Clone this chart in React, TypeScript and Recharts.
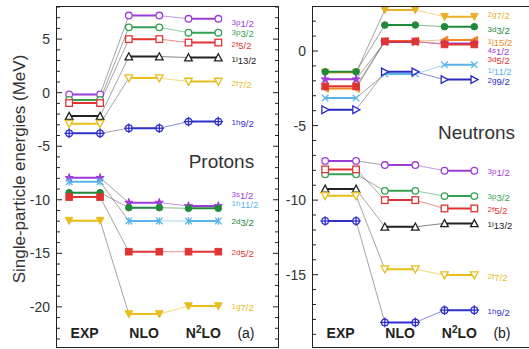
import React from 'react';
import { ComposedChart, Line, XAxis, YAxis } from 'recharts';

const FONT = '"Liberation Sans", Arial, sans-serif';
const INK = '#222222';

const stageNames = ['EXP', 'NLO', 'N2LO'];
// x-ranges of the three level columns, x axis runs 0..10
const stageSpans = [[0.55, 1.95], [3.25, 4.63], [5.95, 7.3]];
const LABEL_X = 7.9;
const TAG_X = 8.55;
const X_DOMAIN = [0, 10];

// ---- protons, panel (a)
const protonStates = ['3p1/2', '3p3/2', '2f5/2', '1i13/2', '2f7/2', '1h9/2', '3s1/2', '1h11/2', '2d3/2', '2d5/2', '1g7/2'];
const protonExp = [-0.16, -0.68, -0.97, -2.19, -2.9, -3.8, -7.95, -8.32, -9.34, -9.75, -11.95];
const protonNlo = [7.2, 6.1, 5.0, 3.37, 1.36, -3.32, -10.27, -11.98, -10.74, -14.85, -20.67];
const protonN2lo = [6.9, 5.6, 4.68, 3.28, 1.04, -2.7, -10.58, -11.98, -10.8, -14.85, -19.93];
const protonLabelAt = [6.52, 5.59, 4.47, 3.07, 0.82, -2.82, -9.5, -10.35, -12.05, -14.94, -19.99];
const protonColors = ['#9c3ed6', '#35a052', '#e03434', '#222222', '#e8bd1c', '#3030cc', '#9c3ed6', '#5ab4ea', '#1f8a3a', '#e03434', '#e8bd1c'];
const protonMarkers = ['circleOpen', 'circleOpen', 'squareOpen', 'triUpOpen', 'triDownOpen', 'circlePlus', 'star', 'asterisk', 'circle', 'square', 'triDown'];

// ---- neutrons, panel (b)
const neutronStates = ['2g7/2', '3d3/2', '1j15/2', '4s1/2', '3d5/2', '1i11/2', '2g9/2', '3p1/2', '3p3/2', '2f5/2', '1i13/2', '2f7/2', '1h9/2'];
const neutronExp = [-1.44, -1.4, -2.51, -1.9, -2.37, -3.16, -3.94, -7.37, -8.27, -7.94, -9.25, -9.71, -11.4];
const neutronNlo = [2.75, 1.74, 0.67, 0.6, 0.64, -1.55, -1.4, -7.65, -9.38, -10.0, -11.79, -14.63, -18.2];
const neutronN2lo = [2.3, 1.63, 0.74, 0.5, 0.44, -0.93, -1.92, -8.03, -9.73, -10.56, -11.56, -15.03, -17.38];
const neutronLabelAt = [2.45, 1.42, 0.62, 0.0, -0.6, -1.28, -1.97, -8.1, -9.78, -10.6, -11.61, -15.15, -17.5];
const neutronColors = ['#eab02a', '#1f8a3a', '#ee8a22', '#9c3ed6', '#e03434', '#5ab4ea', '#2a2ac8', '#9c3ed6', '#35a052', '#e03434', '#222222', '#e8bd1c', '#3030cc'];
const neutronMarkers = ['triDown', 'circle', 'triLeft', 'star', 'square', 'x', 'triRightOpen', 'circleOpen', 'circleOpen', 'squareOpen', 'triUpOpen', 'triDownOpen', 'circlePlus'];

const protonMajor = [5, 0, -5, -10, -15, -20];
const neutronMajor = [0, -5, -10, -15];

// chart box: plot runs x 57..278, y 7..347 inside each panel
const CHART_W = 280;
const CHART_H = 367;
const Y_AXIS_W = 57;
const RIGHT_W = 2;
const TOP_H = 5;
const BOTTOM_H = 18;
const MARGIN = { top: 2, right: 0, bottom: 2, left: 0 };

function Marker({ shape, cx, cy, color }: any) {
  const r = 3.3;
  const open = { fill: '#fff', stroke: color, strokeWidth: 1.3 };
  const full = { fill: color, stroke: color, strokeWidth: 1 };
  const tri = (pts: number[][]) => pts.map((p) => `${cx + p[0]},${cy + p[1]}`).join(' ');
  switch (shape) {
    case 'circleOpen':
      return <circle cx={cx} cy={cy} r={r} {...open} />;
    case 'circle':
      return <circle cx={cx} cy={cy} r={r} {...full} />;
    case 'squareOpen':
      return <rect x={cx - r} y={cy - r} width={2 * r} height={2 * r} {...open} />;
    case 'square':
      return <rect x={cx - r} y={cy - r} width={2 * r} height={2 * r} {...full} />;
    case 'triUpOpen':
      return <polygon points={tri([[0, -r - 0.5], [r + 0.5, r], [-r - 0.5, r]])} {...open} />;
    case 'triDownOpen':
      return <polygon points={tri([[0, r + 0.5], [r + 0.5, -r], [-r - 0.5, -r]])} {...open} />;
    case 'triDown':
      return <polygon points={tri([[0, r + 0.5], [r + 0.5, -r], [-r - 0.5, -r]])} {...full} />;
    case 'triRightOpen':
      return <polygon points={tri([[r + 0.5, 0], [-r, -r - 0.5], [-r, r + 0.5]])} {...open} />;
    case 'triLeft':
      return <polygon points={tri([[-r - 0.5, 0], [r, -r - 0.5], [r, r + 0.5]])} {...full} />;
    case 'star': {
      const pts: string[] = [];
      for (let k = 0; k < 10; k++) {
        const a = -Math.PI / 2 + (k * Math.PI) / 5;
        const rr = k % 2 === 0 ? r + 1 : r * 0.5;
        pts.push(`${cx + rr * Math.cos(a)},${cy + rr * Math.sin(a)}`);
      }
      return <polygon points={pts.join(' ')} {...full} />;
    }
    case 'x':
      return (
        <g stroke={color} strokeWidth={1.3}>
          <line x1={cx - r} y1={cy - r} x2={cx + r} y2={cy + r} />
          <line x1={cx - r} y1={cy + r} x2={cx + r} y2={cy - r} />
        </g>
      );
    case 'asterisk':
      return (
        <g stroke={color} strokeWidth={1.3}>
          <line x1={cx - r} y1={cy - r} x2={cx + r} y2={cy + r} />
          <line x1={cx - r} y1={cy + r} x2={cx + r} y2={cy - r} />
          <line x1={cx} y1={cy - r - 0.5} x2={cx} y2={cy + r + 0.5} />
        </g>
      );
    case 'circlePlus':
      return (
        <g>
          <circle cx={cx} cy={cy} r={r} {...open} />
          <line x1={cx - r - 1.5} y1={cy} x2={cx + r + 1.5} y2={cy} stroke={color} strokeWidth={1.3} />
          <line x1={cx} y1={cy - r - 1.5} x2={cx} y2={cy + r + 1.5} stroke={color} strokeWidth={1.3} />
        </g>
      );
    default:
      return <circle cx={cx} cy={cy} r={r} {...full} />;
  }
}

const seriesDefaults = { dataKey: 'y', activeDot: false, isAnimationActive: false, legendType: 'none', connectNulls: false } as any;

function Panel({ states, exp, nlo, n2lo, labelAt, colors, markers, domain, major, tag, title, titleAt, showYTitle }: any) {
  const minor: number[] = [];
  for (let v = Math.ceil(domain[0]); v <= Math.floor(domain[1]); v++) minor.push(v);
  const xTicks = [...stageSpans.map((s) => (s[0] + s[1]) / 2), TAG_X];
  const xNames = [...stageNames, tag];

  // inward tick marks on both side walls, one dot per tick value
  const tickData: any[] = [];
  minor.forEach((v) => {
    tickData.push({ x: X_DOMAIN[0], y: v, side: 1 }, { x: X_DOMAIN[1], y: v, side: -1 });
  });

  const renderXTick = (p: any) => {
    const name = xNames[p.index];
    const common = { x: Number(p.x), y: Number(p.y) - 9, textAnchor: 'middle', fontSize: 14, fill: '#222', fontFamily: FONT } as any;
    if (name === 'N2LO') {
      return (
        <text {...common} fontWeight={700}>
          N<tspan dy={-5} fontSize={10}>2</tspan>
          <tspan dy={5}>LO</tspan>
        </text>
      );
    }
    return <text {...common} fontWeight={name === tag ? 400 : 700}>{name}</text>;
  };

  const renderLeftTick = (p: any) => {
    const v = p.payload.value;
    if (!major.includes(v)) return <g />;
    return (
      <text x={Number(p.x) - 7} y={Number(p.y) + 5} textAnchor="end" fontSize={14} fill="#333" fontFamily={FONT}>
        {v}
      </text>
    );
  };

  const yTitle = (p: any) => {
    const vb = p.viewBox || { x: 0, y: 7, width: 57, height: 340 };
    const cx = vb.x + 19;
    const cy = vb.y + vb.height / 2 - 8;
    return (
      <text x={cx} y={cy} transform={`rotate(-90 ${cx} ${cy})`} textAnchor="middle" dominantBaseline="central" fontSize={17} fill="#333" fontFamily={FONT}>
        Single-particle energies (MeV)
      </text>
    );
  };

  const connectors: any[] = [];
  const levels: any[] = [];
  const labels: any[] = [];
  states.forEach((st: string, i: number) => {
    const color = colors[i];
    const vals = [exp[i], nlo[i], n2lo[i]];
    const thick: any[] = [];
    stageSpans.forEach((s, k) => {
      if (k > 0) thick.push({ x: (stageSpans[k - 1][1] + s[0]) / 2, y: null });
      thick.push({ x: s[0], y: vals[k] }, { x: s[1], y: vals[k] });
    });
    connectors.push(
      <Line key={`c1-${i}`} {...seriesDefaults} data={[{ x: stageSpans[0][1], y: vals[0] }, { x: stageSpans[1][0], y: vals[1] }]} stroke="#666" strokeWidth={0.6} dot={false} />,
      <Line key={`c2-${i}`} {...seriesDefaults} data={[{ x: stageSpans[1][1], y: vals[1] }, { x: stageSpans[2][0], y: vals[2] }]} stroke={color} strokeOpacity={0.8} strokeWidth={0.7} dot={false} />
    );
    levels.push(
      <Line
        key={`l-${i}`}
        {...seriesDefaults}
        data={thick}
        stroke={color}
        strokeWidth={2}
        dot={(p: any) => {
          const key = `d-${i}-${p.index}`;
          if (p.cy == null || p.payload?.y == null) return <g key={key} />;
          return <Marker key={key} shape={markers[i]} cx={p.cx} cy={p.cy} color={color} />;
        }}
      />
    );
    labels.push(
      <Line
        key={`t-${i}`}
        {...seriesDefaults}
        data={[{ x: LABEL_X, y: labelAt[i] }]}
        stroke="none"
        dot={(p: any) => (
          <text key={`tx-${i}`} x={p.cx} y={p.cy + 2.5} fill={color} fontSize={8} fontFamily={FONT}>
            {st.slice(0, 2)}
            <tspan fontSize={9.5} dy={2}>{st.slice(2)}</tspan>
          </text>
        )}
      />
    );
  });

  const plotLeft = MARGIN.left + Y_AXIS_W;
  const plotTop = MARGIN.top + TOP_H;
  const plotW = CHART_W - MARGIN.left - MARGIN.right - Y_AXIS_W - RIGHT_W;
  const plotH = CHART_H - MARGIN.top - MARGIN.bottom - TOP_H - BOTTOM_H;

  return (
    <div style={{ position: 'relative', width: CHART_W, height: CHART_H }}>
      <ComposedChart width={CHART_W} height={CHART_H} margin={MARGIN}>
        <XAxis dataKey="x" type="number" domain={X_DOMAIN} ticks={xTicks} interval={0} height={BOTTOM_H} tickSize={0} tickMargin={0} tickLine={false} axisLine={false} tick={renderXTick} />
        <XAxis xAxisId="top" orientation="top" type="number" domain={X_DOMAIN} height={TOP_H} tick={false} tickLine={false} axisLine={false} />
        <YAxis type="number" domain={domain} ticks={minor} interval={0} width={Y_AXIS_W} tickSize={0} tickMargin={0} tickLine={false} axisLine={false} tick={renderLeftTick} label={showYTitle ? { content: yTitle } : undefined} />
        <YAxis yAxisId="right" orientation="right" type="number" domain={domain} width={RIGHT_W} tick={false} tickLine={false} axisLine={false} />
        <Line
          {...seriesDefaults}
          data={tickData}
          stroke="none"
          dot={(p: any) => {
            const len = major.includes(p.payload.y) ? 5 : 3;
            const side = p.payload.side;
            return <rect key={`tk-${p.index}`} x={side > 0 ? p.cx : p.cx - len} y={p.cy - 0.5} width={len} height={1} fill={INK} />;
          }}
        />
        {connectors}
        {levels}
        {labels}
        <Line
          {...seriesDefaults}
          data={[{ x: titleAt[0], y: titleAt[1] }]}
          stroke="none"
          dot={(p: any) => (
            <text key="panel-title" x={p.cx} y={p.cy + 7} textAnchor="middle" fontSize={19} fill="#333" fontFamily={FONT}>
              {title}
            </text>
          )}
        />
      </ComposedChart>
      {/* plot frame */}
      <div
        style={{
          position: 'absolute',
          left: plotLeft - 1,
          top: plotTop - 1,
          width: plotW + 2,
          height: plotH + 2,
          border: `1.5px solid ${INK}`,
          boxSizing: 'border-box',
          pointerEvents: 'none',
        }}
      />
    </div>
  );
}

export default function App() {
  return (
    <div style={{ position: 'absolute', left: 0, top: 0, width: 529, height: 349, overflow: 'hidden', background: '#fff', fontFamily: FONT }}>
      <div style={{ position: 'absolute', left: 0, top: 0 }}>
        <Panel
          states={protonStates}
          exp={protonExp}
          nlo={protonNlo}
          n2lo={protonN2lo}
          labelAt={protonLabelAt}
          colors={protonColors}
          markers={protonMarkers}
          domain={[-23.75, 8.0]}
          major={protonMajor}
          tag="(a)"
          title="Protons"
          titleAt={[7.44, -6.37]}
          showYTitle
        />
      </div>
      <div style={{ position: 'absolute', left: 256, top: 0 }}>
        <Panel
          states={neutronStates}
          exp={neutronExp}
          nlo={neutronNlo}
          n2lo={neutronN2lo}
          labelAt={neutronLabelAt}
          colors={neutronColors}
          markers={neutronMarkers}
          domain={[-19.85, 2.95]}
          major={neutronMajor}
          tag="(b)"
          title="Neutrons"
          titleAt={[7.4, -5.42]}
          showYTitle={false}
        />
      </div>
    </div>
  );
}
